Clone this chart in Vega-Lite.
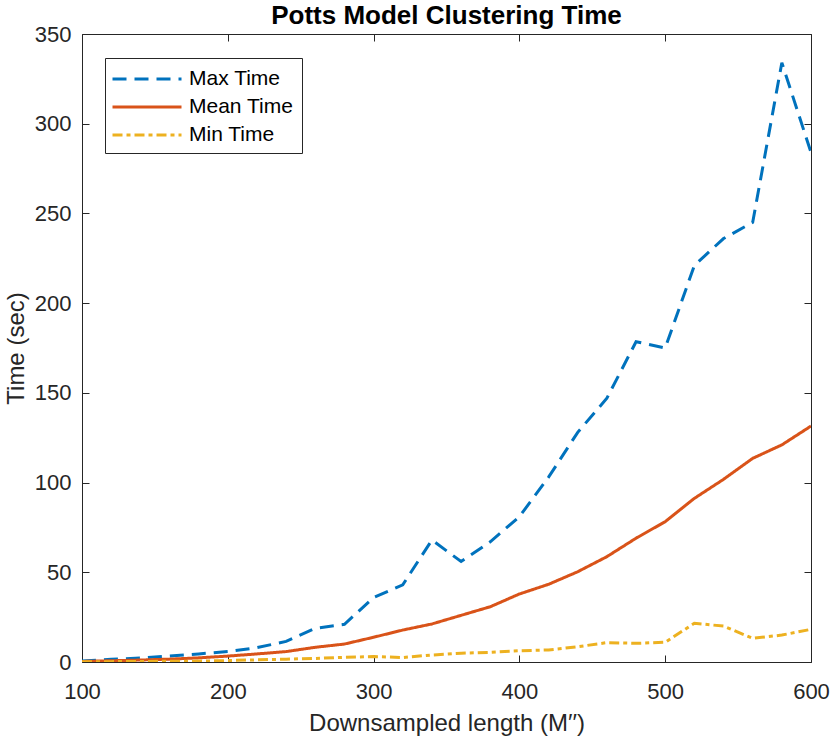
{
  "$schema": "https://vega.github.io/schema/vega-lite/v6.json",
  "autosize": "none",
  "width": 729,
  "height": 628,
  "padding": {"left": 82, "top": 34, "right": 19, "bottom": 78},
  "background": "white",
  "title": {
    "text": "Potts Model Clustering Time",
    "font": "Liberation Sans",
    "fontSize": 26,
    "fontWeight": "bold",
    "color": "black",
    "offset": -6
  },
  "data": {
    "values": [
      {"length": 100, "series": "Max Time", "time": 0.5},
      {"length": 120, "series": "Max Time", "time": 1.5},
      {"length": 140, "series": "Max Time", "time": 2.2},
      {"length": 160, "series": "Max Time", "time": 3.3},
      {"length": 180, "series": "Max Time", "time": 4.5},
      {"length": 200, "series": "Max Time", "time": 5.8},
      {"length": 220, "series": "Max Time", "time": 8},
      {"length": 240, "series": "Max Time", "time": 11.5},
      {"length": 260, "series": "Max Time", "time": 18.8},
      {"length": 280, "series": "Max Time", "time": 21},
      {"length": 300, "series": "Max Time", "time": 36},
      {"length": 320, "series": "Max Time", "time": 43},
      {"length": 340, "series": "Max Time", "time": 68},
      {"length": 360, "series": "Max Time", "time": 56},
      {"length": 380, "series": "Max Time", "time": 67},
      {"length": 400, "series": "Max Time", "time": 81},
      {"length": 420, "series": "Max Time", "time": 103},
      {"length": 440, "series": "Max Time", "time": 128},
      {"length": 460, "series": "Max Time", "time": 147},
      {"length": 480, "series": "Max Time", "time": 178.5},
      {"length": 500, "series": "Max Time", "time": 175},
      {"length": 520, "series": "Max Time", "time": 221},
      {"length": 540, "series": "Max Time", "time": 236},
      {"length": 560, "series": "Max Time", "time": 245},
      {"length": 580, "series": "Max Time", "time": 334},
      {"length": 600, "series": "Max Time", "time": 284},
      {"length": 100, "series": "Mean Time", "time": 0.3},
      {"length": 120, "series": "Mean Time", "time": 0.7},
      {"length": 140, "series": "Mean Time", "time": 1.1},
      {"length": 160, "series": "Mean Time", "time": 1.6},
      {"length": 180, "series": "Mean Time", "time": 2.3},
      {"length": 200, "series": "Mean Time", "time": 3.3},
      {"length": 220, "series": "Mean Time", "time": 4.5},
      {"length": 240, "series": "Mean Time", "time": 5.8},
      {"length": 260, "series": "Mean Time", "time": 8.2},
      {"length": 280, "series": "Mean Time", "time": 10},
      {"length": 300, "series": "Mean Time", "time": 13.8},
      {"length": 320, "series": "Mean Time", "time": 17.8},
      {"length": 340, "series": "Mean Time", "time": 21.2},
      {"length": 360, "series": "Mean Time", "time": 26},
      {"length": 380, "series": "Mean Time", "time": 30.8},
      {"length": 400, "series": "Mean Time", "time": 37.9},
      {"length": 420, "series": "Mean Time", "time": 43.3},
      {"length": 440, "series": "Mean Time", "time": 50.3},
      {"length": 460, "series": "Mean Time", "time": 58.7},
      {"length": 480, "series": "Mean Time", "time": 69},
      {"length": 500, "series": "Mean Time", "time": 78.2},
      {"length": 520, "series": "Mean Time", "time": 91.2},
      {"length": 540, "series": "Mean Time", "time": 101.8},
      {"length": 560, "series": "Mean Time", "time": 113.5},
      {"length": 580, "series": "Mean Time", "time": 121},
      {"length": 600, "series": "Mean Time", "time": 131.5},
      {"length": 100, "series": "Min Time", "time": 0.1},
      {"length": 120, "series": "Min Time", "time": 0.2},
      {"length": 140, "series": "Min Time", "time": 0.3},
      {"length": 160, "series": "Min Time", "time": 0.4},
      {"length": 180, "series": "Min Time", "time": 0.5},
      {"length": 200, "series": "Min Time", "time": 0.8},
      {"length": 220, "series": "Min Time", "time": 1.2},
      {"length": 240, "series": "Min Time", "time": 1.6},
      {"length": 260, "series": "Min Time", "time": 2},
      {"length": 280, "series": "Min Time", "time": 2.6},
      {"length": 300, "series": "Min Time", "time": 3},
      {"length": 320, "series": "Min Time", "time": 2.5},
      {"length": 340, "series": "Min Time", "time": 3.9},
      {"length": 360, "series": "Min Time", "time": 4.9},
      {"length": 380, "series": "Min Time", "time": 5.4},
      {"length": 400, "series": "Min Time", "time": 6.3},
      {"length": 420, "series": "Min Time", "time": 6.7},
      {"length": 440, "series": "Min Time", "time": 8.5},
      {"length": 460, "series": "Min Time", "time": 10.8},
      {"length": 480, "series": "Min Time", "time": 10.4},
      {"length": 500, "series": "Min Time", "time": 11},
      {"length": 520, "series": "Min Time", "time": 21.6},
      {"length": 540, "series": "Min Time", "time": 20},
      {"length": 560, "series": "Min Time", "time": 13.2},
      {"length": 580, "series": "Min Time", "time": 15},
      {"length": 600, "series": "Min Time", "time": 18.2}
    ]
  },
  "layer": [
    {
      "mark": {"type": "line", "strokeWidth": 3, "clip": true},
      "encoding": {
        "x": {
          "field": "length",
          "type": "quantitative",
          "scale": {"domain": [100, 600], "nice": false, "zero": false},
          "axis": {
            "orient": "bottom",
            "values": [100, 200, 300, 400, 500, 600],
            "title": "Downsampled length (M′′)"
          }
        },
        "y": {
          "field": "time",
          "type": "quantitative",
          "scale": {"domain": [0, 350], "nice": false},
          "axis": {
            "orient": "left",
            "values": [0, 50, 100, 150, 200, 250, 300, 350],
            "title": "Time (sec)"
          }
        },
        "color": {
          "field": "series",
          "type": "nominal",
          "scale": {
            "domain": ["Max Time", "Mean Time", "Min Time"],
            "range": ["#0072BD", "#D95319", "#EDB120"]
          },
          "legend": {"title": null, "orient": "none", "legendX": 23, "legendY": 24}
        },
        "strokeDash": {
          "field": "series",
          "type": "nominal",
          "scale": {
            "domain": ["Max Time", "Mean Time", "Min Time"],
            "range": [[14, 8], [1, 0], [10, 4, 4, 4]]
          },
          "legend": {"title": null, "orient": "none", "legendX": 23, "legendY": 24}
        }
      }
    },
    {
      "mark": {"type": "line", "opacity": 0},
      "encoding": {
        "x": {
          "field": "length",
          "type": "quantitative",
          "scale": {"domain": [100, 600], "nice": false, "zero": false},
          "axis": {"orient": "top", "values": [100, 200, 300, 400, 500, 600], "labels": false, "title": null}
        },
        "y": {
          "field": "time",
          "type": "quantitative",
          "scale": {"domain": [0, 350], "nice": false},
          "axis": {"orient": "right", "values": [0, 50, 100, 150, 200, 250, 300, 350], "labels": false, "title": null}
        },
        "detail": {"field": "series"}
      }
    }
  ],
  "resolve": {"axis": {"x": "independent", "y": "independent"}},
  "config": {
    "font": "Liberation Sans",
    "view": {"stroke": "#262626", "strokeWidth": 1},
    "axis": {
      "grid": false,
      "domain": false,
      "labelFlush": false,
      "tickSize": -7,
      "tickColor": "#262626",
      "labelColor": "#262626",
      "labelFontSize": 22,
      "labelFont": "Liberation Sans",
      "titleFont": "Liberation Sans",
      "titleFontSize": 24,
      "titleFontWeight": "normal",
      "titleColor": "#262626"
    },
    "axisX": {"labelPadding": 26, "titlePadding": 9},
    "axisY": {"labelPadding": 18, "titlePadding": 6},
    "legend": {
      "symbolType": "M-3,0H3",
      "symbolSize": 529,
      "symbolStrokeWidth": 3,
      "symbolOffset": 21,
      "labelFontSize": 21,
      "labelFont": "Liberation Sans",
      "labelColor": "black",
      "strokeColor": "#262626",
      "fillColor": "white",
      "padding": 8,
      "rowPadding": 5,
      "labelOffset": 29
    }
  }
}
